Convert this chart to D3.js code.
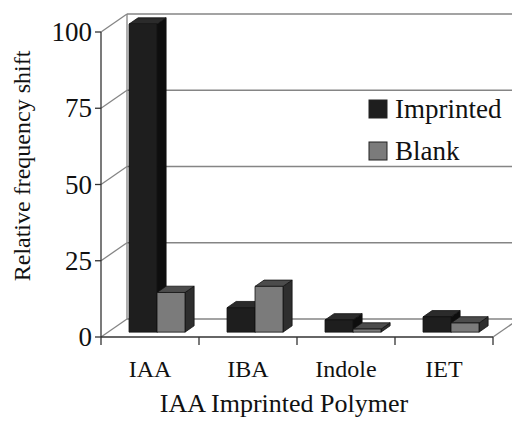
<html>
	<head>
		<title>IAA Imprinted Polymer</title>
		<script src="https://d3js.org/d3.v7.min.js"></script>
		<style>
			body{
				margin: 0px;
				background: #fff;
			}
			#container{
				position: relative;
				width: 512px;
				height: 429px;
			}
			text{
				font-family: "Liberation Serif", "Times New Roman", serif;
				fill: #111;
			}
		</style>
	</head>
	<body>
		<div id="container"></div>

		<script>
		var categories = ['IAA', 'IBA', 'Indole', 'IET']
		var seriesNames = ['Imprinted', 'Blank']
		var imprinted = [101, 8, 4, 5]
		var blank = [13, 15, 1, 3]
		var yTicks = [0, 25, 50, 75, 100]

		var W = 512, H = 429
		var DX = 26, DY = -18		// depth of the box
		var bf = 0.27, bb = 0.62	// bar front / back, fraction of depth

		var faces = {
			Imprinted: { front: '#1e1e1e', top: '#2b2b2b', side: '#0e0e0e' },
			Blank: { front: '#7b7b7b', top: '#4c4c4c', side: '#2e2e2e' }
		}

		var svg = d3.select('#container').append('svg')
			.attr('width', W)
			.attr('height', H)

		var x = d3.scaleBand()
			.domain(categories)
			.range([101, 493])

		var x1 = d3.scaleBand()
			.domain(seriesNames)
			.range([0, x.bandwidth()])
			.paddingOuter(0.75)

		var y = d3.scaleLinear()
			.domain([0, 100])
			.range([337, 32])

		var grid = svg.append('g')
			.attr('stroke', '#858585')
			.attr('stroke-width', 1.3)
			.attr('fill', 'none')

		// back wall lines + left wall diagonals
		yTicks.forEach(function(t){
			grid.append('line')
				.attr('x1', x.range()[0] + DX).attr('x2', W + 10)
				.attr('y1', y(t) + DY).attr('y2', y(t) + DY)
			grid.append('line')
				.attr('x1', x.range()[0]).attr('x2', x.range()[0] + DX)
				.attr('y1', y(t)).attr('y2', y(t) + DY)
		})
		grid.append('line')
			.attr('x1', x.range()[0] + DX).attr('x2', x.range()[0] + DX)
			.attr('y1', y(100) + DY).attr('y2', y(0) + DY)

		// floor
		grid.append('line')
			.attr('x1', x.range()[1]).attr('x2', x.range()[1] + DX)
			.attr('y1', y(0)).attr('y2', y(0) + DY)

		// front axes
		var axes = svg.append('g')
			.attr('stroke', '#333')
			.attr('stroke-width', 1.3)

		axes.append('line')
			.attr('x1', x.range()[0]).attr('x2', x.range()[0])
			.attr('y1', y(100)).attr('y2', y(0))
		axes.append('line')
			.attr('x1', x.range()[0]).attr('x2', x.range()[1])
			.attr('y1', y(0)).attr('y2', y(0))

		yTicks.forEach(function(t){
			axes.append('line')
				.attr('x1', x.range()[0] - 6).attr('x2', x.range()[0])
				.attr('y1', y(t)).attr('y2', y(t))
		})
		// category separators, incl. the corner
		var seps = [x.range()[0]].concat(categories.map(function(c){ return x(c) + x.bandwidth() }))
		seps.forEach(function(s){
			axes.append('line')
				.attr('x1', s).attr('x2', s)
				.attr('y1', y(0)).attr('y2', y(0) + 8)
		})

		svg.append('g').selectAll('text')
			.data(yTicks)
			.enter().append('text')
				.attr('x', 92)
				.attr('y', function(d){ return y(d) })
				.attr('dy', '0.34em')
				.attr('text-anchor', 'end')
				.style('font-size', '27px')
				.text(function(d){ return d })

		// bars
		var bars = []
		categories.forEach(function(c, i){
			bars.push({ cat: c, s: 'Imprinted', v: imprinted[i] })
			bars.push({ cat: c, s: 'Blank', v: blank[i] })
		})

		var barG = svg.append('g')
			.attr('stroke', '#111')
			.attr('stroke-width', 0.8)
			.attr('stroke-linejoin', 'round')

		bars.forEach(function(d){
			var x0 = x(d.cat) + x1(d.s) + bf * DX
			var w = x1.bandwidth()
			var yb = y(0) + bf * DY
			var yt = y(d.v) + bf * DY
			var ddx = (bb - bf) * DX, ddy = (bb - bf) * DY
			var g = barG.append('g')
			g.append('path')
				.attr('fill', faces[d.s].side)
				.attr('d', 'M' + (x0 + w) + ',' + yb + 'L' + (x0 + w + ddx) + ',' + (yb + ddy) +
					'L' + (x0 + w + ddx) + ',' + (yt + ddy) + 'L' + (x0 + w) + ',' + yt + 'Z')
			g.append('path')
				.attr('fill', faces[d.s].top)
				.attr('d', 'M' + x0 + ',' + yt + 'L' + (x0 + ddx) + ',' + (yt + ddy) +
					'L' + (x0 + w + ddx) + ',' + (yt + ddy) + 'L' + (x0 + w) + ',' + yt + 'Z')
			g.append('rect')
				.attr('fill', faces[d.s].front)
				.attr('x', x0)
				.attr('y', yt)
				.attr('width', w)
				.attr('height', yb - yt)
		})

		// category labels
		svg.append('g').selectAll('text')
			.data(categories)
			.enter().append('text')
				.attr('x', function(d){ return x(d) + x.bandwidth() / 2 })
				.attr('y', 377)
				.attr('text-anchor', 'middle')
				.style('font-size', '24px')
				.text(function(d){ return d })

		svg.append('text')
			.attr('x', 284)
			.attr('y', 412)
			.attr('text-anchor', 'middle')
			.style('font-size', '26px')
			.text('IAA Imprinted Polymer')

		svg.append('text')
			.attr('transform', 'translate(30,166) rotate(-90)')
			.attr('text-anchor', 'middle')
			.style('font-size', '24px')
			.text('Relative frequency shift')

		// legend
		var legend = svg.append('g').selectAll('g')
			.data(seriesNames)
			.enter().append('g')
				.attr('transform', function(d, i){ return 'translate(369,' + (100 + i * 42) + ')' })

		legend.append('rect')
			.attr('width', 18)
			.attr('height', 18)
			.attr('fill', function(d){ return faces[d].front })
			.attr('stroke', '#222')
			.attr('stroke-width', 1)

		legend.append('text')
			.attr('x', 26)
			.attr('y', 18)
			.style('font-size', '27px')
			.text(function(d){ return d })
		</script>
	</body>
</html>
